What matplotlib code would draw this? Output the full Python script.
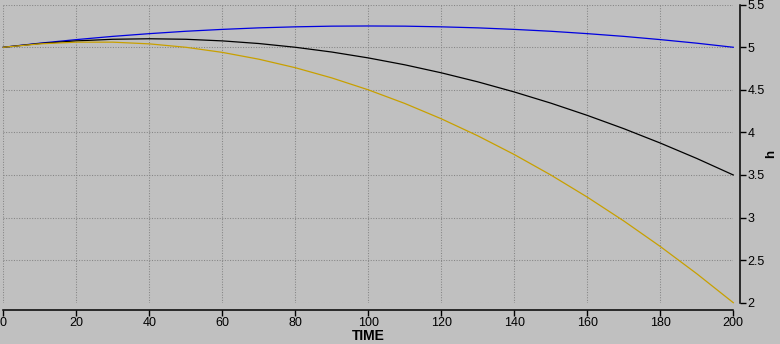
import matplotlib
matplotlib.use('Agg')
import matplotlib.pyplot as plt

# values
time = [0, 10, 20, 30, 40, 50, 60, 70, 80, 90, 100,
        110, 120, 130, 140, 150, 160, 170, 180, 190, 200]
h_blue = [5.0, 5.048, 5.09, 5.128, 5.16, 5.188, 5.21, 5.228, 5.24, 5.248, 5.25,
          5.248, 5.24, 5.228, 5.21, 5.188, 5.16, 5.128, 5.09, 5.048, 5.0]
h_black = [5.0, 5.044, 5.075, 5.094, 5.1, 5.094, 5.075, 5.044, 5.0, 4.944, 4.875,
           4.794, 4.7, 4.594, 4.475, 4.344, 4.2, 4.044, 3.875, 3.694, 3.5]
h_gold = [5.0, 5.04, 5.06, 5.06, 5.04, 5.0, 4.94, 4.86, 4.76, 4.64, 4.5,
          4.34, 4.16, 3.96, 3.74, 3.5, 3.24, 2.96, 2.66, 2.34, 2.0]

xticks = [0, 20, 40, 60, 80, 100, 120, 140, 160, 180, 200]
yticks = [2, 2.5, 3, 3.5, 4, 4.5, 5, 5.5]
ytick_labels = ['2', '2.5', '3', '3.5', '4', '4.5', '5', '5.5']

bg = '#c0c0c0'
plt.rcParams['font.family'] = ['Liberation Sans', 'DejaVu Sans']

fig = plt.figure(figsize=(7.8, 3.44), dpi=100, facecolor=bg)
ax = fig.add_axes([3.3 / 780, 1 - 302.7 / 344, 730 / 780, 298 / 344], facecolor=bg)

ax.plot(time, h_blue, color='#0000e0', lw=0.9, clip_on=False)
ax.plot(time, h_black, color='black', lw=0.9, clip_on=False)
ax.plot(time, h_gold, color='#c8a000', lw=0.9, clip_on=False)

ax.set_xlim(0, 200)
ax.set_ylim(2, 5.5)
ax.set_xticks(xticks)
ax.set_yticks(yticks)
ax.set_yticklabels(ytick_labels)

ax.grid(True, color='#858585', lw=0.75, linestyle=(0, (1, 1.5)))
for gl in ax.get_xgridlines() + ax.get_ygridlines():
    gl.set_clip_on(False)

# axes only on the bottom and right, pushed out a little
ax.spines['top'].set_visible(False)
ax.spines['left'].set_visible(False)
ax.spines['bottom'].set_position(('outward', 5))
ax.spines['right'].set_position(('outward', 4.5))
ax.spines['bottom'].set_bounds(0, 200)
ax.spines['right'].set_bounds(2, 5.5)
ax.spines['bottom'].set_linewidth(1.1)
ax.spines['right'].set_linewidth(1.1)

ax.yaxis.tick_right()
ax.tick_params(axis='both', direction='out', length=4, width=1, labelsize=9, colors='black', pad=1.5)

ax.set_xlabel('TIME', fontsize=10, fontweight='bold', labelpad=0)
# y label sits close to the right edge
fig.text(771 / 780, 1 - 154 / 344, 'h', rotation=90, ha='center', va='center',
         fontsize=9.5, fontweight='bold')

fig.savefig('out.png', dpi=100, facecolor=bg)
